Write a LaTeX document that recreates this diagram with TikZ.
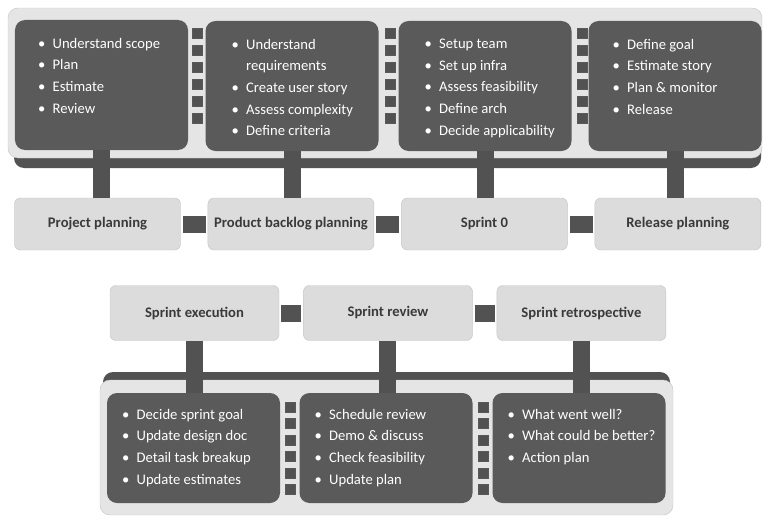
\documentclass[tikz,border=0pt]{standalone}
\usepackage{fontspec}
\setmainfont{Carlito}
\usetikzlibrary{positioning,calc}
\definecolor{darkbox}{HTML}{5A5A5A}
\definecolor{barcol}{HTML}{525252}
\definecolor{lightbox}{HTML}{DCDCDC}
\definecolor{lightline}{HTML}{C6C6C6}
\definecolor{panelcol}{HTML}{E5E5E5}
\definecolor{labelcol}{HTML}{3A3A3A}
\newcommand{\itm}[1]{\makebox[4.4mm][l]{\textbullet}#1}

\begin{document}
\begin{tikzpicture}[x=0.3mm,y=-0.3mm,
  task/.style={draw=lightline,fill=lightbox,rounded corners=1.8mm,minimum width=49.8mm,minimum height=15.6mm,
    font=\fontsize{12.5}{15}\selectfont\bfseries,text=labelcol},
  act/.style={fill=darkbox,rounded corners=3mm,minimum width=51.9mm,minimum height=39mm},
  lst/.style={anchor=north west,inner sep=0pt,align=left,text=white,font=\fontsize{12.5}{18.5}\selectfont},
  bar/.style={barcol,line width=5.1mm},
  link/.style={barcol,line width=5.1mm,shorten <=0.6mm,shorten >=0.6mm},
  sq/.style={fill=barcol,draw=gray!70!black,line width=0.3pt},
]
\useasboundingbox (0,0) rectangle (767,517);
% ---------- release-level panel ----------
\fill[barcol,rounded corners=3mm] (14,130) rectangle (761,168);
\draw[lightline,fill=panelcol,rounded corners=3mm] (8,8) rectangle (762,158);
\node[act] (d1) at (101.5,85) {};
\node[act] (d2) at (292,86) {};
\node[act] (d3) at (485,86) {};
\node[act] (d4) at (675,86) {};
\foreach \xc in {197,390,582}
  \foreach \i in {0,...,5}
    \filldraw[sq] ({\xc-5},{28+17*\i}) rectangle ++(10,10);
\node[lst] at ($(d1.north west)+(23,18)$)
  {\itm{Understand scope}\\\itm{Plan}\\\itm{Estimate}\\\itm{Review}};
\node[lst] at ($(d2.north west)+(26,18)$)
  {\itm{Understand}\\\hspace*{4.4mm}requirements\\\itm{Create user story}\\\itm{Assess complexity}\\\itm{Define criteria}};
\node[lst] at ($(d3.north west)+(26,18)$)
  {\itm{Setup team}\\\itm{Set up infra}\\\itm{Assess feasibility}\\\itm{Define arch}\\\itm{Decide applicability}};
\node[lst] at ($(d4.north west)+(24,18)$)
  {\itm{Define goal}\\\itm{Estimate story}\\\itm{Plan \& monitor}\\\itm{Release}};
% ---------- release-level steps ----------
\node[task] (pp) at (97.5,224) {Project planning};
\node[task,right=8.1mm of pp] (pb) {Product backlog planning};
\node[task,right=8.1mm of pb] (s0) {Sprint 0};
\node[task,right=8.1mm of s0] (rp) {Release planning};
\draw[link] (pp) -- (pb);
\draw[link] (pb) -- (s0);
\draw[link] (s0) -- (rp);
\draw[bar] (d1.south) -- (d1.south |- pp.north);
\draw[bar] (d2.south) -- (d2.south |- pb.north);
\draw[bar] (d3.south) -- (d3.south |- s0.north);
\draw[bar] (d4.south) -- (d4.south |- rp.north);
% ---------- sprint-level steps ----------
\node[task,minimum width=50.7mm,minimum height=16.5mm] (se) at (194.5,313) {Sprint execution};
\node[task,minimum width=50.7mm,minimum height=16.5mm,right=7.2mm of se] (sr) {Sprint review};
\node[task,minimum width=50.7mm,minimum height=16.5mm,right=7.2mm of sr] (st) {Sprint retrospective};
\draw[link] (se) -- (sr);
\draw[link] (sr) -- (st);
% ---------- sprint-level panel ----------
\fill[barcol,rounded corners=3mm] (103,372) rectangle (670,400);
\draw[lightline,fill=panelcol,rounded corners=3mm] (100,380) rectangle (673,515);
\node[act,minimum height=33mm] (b1) at (193.5,448) {};
\node[act,minimum height=33mm] (b2) at (386,448) {};
\node[act,minimum height=33mm] (b3) at (579,448) {};
\foreach \xc in {290,483}
  \foreach \i in {0,...,5}
    \filldraw[sq] ({\xc-5},{402+16.5*\i}) rectangle ++(10,10);
\node[lst] at ($(b1.north west)+(15,16)$)
  {\itm{Decide sprint goal}\\\itm{Update design doc}\\\itm{Detail task breakup}\\\itm{Update estimates}};
\node[lst] at ($(b2.north west)+(15,16)$)
  {\itm{Schedule review}\\\itm{Demo \& discuss}\\\itm{Check feasibility}\\\itm{Update plan}};
\node[lst] at ($(b3.north west)+(15,16)$)
  {\itm{What went well?}\\\itm{What could be better?}\\\itm{Action plan}};
\draw[bar] (se.south) -- (se.south |- b1.north);
\draw[bar] (sr.south) -- (sr.south |- b2.north);
\draw[bar] (st.south) -- (st.south |- b3.north);
\end{tikzpicture}
\end{document}
